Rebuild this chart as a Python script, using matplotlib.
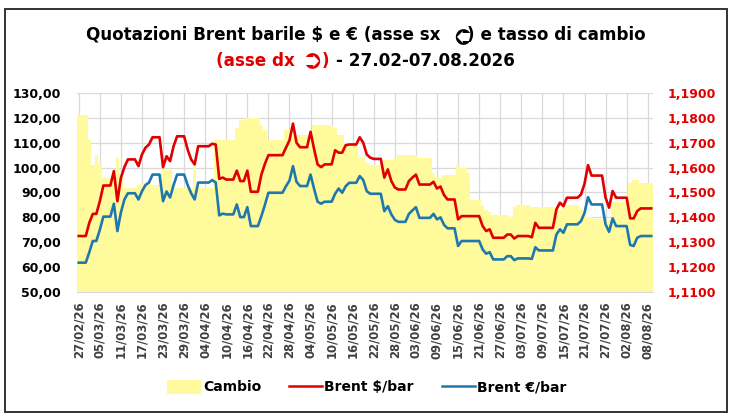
import pandas as pd
import matplotlib
matplotlib.use('Agg')
import matplotlib.pyplot as plt
from matplotlib.patches import Patch, Rectangle
from matplotlib.lines import Line2D
from matplotlib.ticker import FuncFormatter, FixedLocator

plt.rcParams['font.family'] = ['DejaVu Sans']

# Daily values (weekends repeat Friday), rows of 7 days starting on Friday
start_date = '2026-02-27'

brent_usd = [
    72.5, 72.5, 72.5, 77.8, 81.4, 81.4, 86.5,
    92.8, 92.8, 92.8, 98.6, 86.5, 95.9, 100.2,
    103.3, 103.3, 103.3, 100.6, 105.3, 108.0, 109.3,
    112.2, 112.2, 112.2, 100.2, 104.6, 102.6, 108.6,
    112.6, 112.6, 112.6, 107.3, 103.3, 101.3, 108.6,
    108.6, 108.6, 108.6, 109.6, 109.3, 95.5, 96.0,
    95.2, 95.2, 95.2, 98.8, 94.6, 94.6, 98.8,
    90.3, 90.3, 90.3, 97.2, 101.5, 105.0, 105.0,
    105.0, 105.0, 105.0, 108.0, 111.0, 117.7, 110.0,
    108.2, 108.2, 108.2, 114.4, 107.5, 101.3, 100.2,
    101.3, 101.3, 101.3, 107.0, 106.0, 106.0, 109.0,
    109.3, 109.3, 109.3, 112.2, 110.0, 105.3, 104.0,
    103.5, 103.5, 103.5, 96.0, 99.3, 94.6, 92.0,
    91.2, 91.2, 91.2, 94.6, 96.0, 97.2, 93.2,
    93.2, 93.2, 93.2, 94.3, 91.6, 92.4, 89.0,
    87.2, 87.2, 87.2, 79.2, 80.5, 80.5, 80.5,
    80.5, 80.5, 80.5, 76.5, 74.5, 75.2, 71.8,
    71.8, 71.8, 71.8, 73.1, 73.1, 71.5, 72.5,
    72.5, 72.5, 72.5, 72.0, 77.8, 75.8, 75.8,
    75.8, 75.8, 75.8, 83.2, 85.9, 84.5, 87.9,
    87.9, 87.9, 87.9, 89.2, 93.5, 101.0, 96.8,
    96.8, 96.8, 96.8, 87.9, 83.9, 90.6, 87.9,
    87.9, 87.9, 87.9, 79.6, 79.6, 82.5, 83.6,
    83.6, 83.6, 83.6,
]

brent_eur = [
    61.8, 61.8, 61.8, 66.0, 70.5, 70.5, 75.0,
    80.3, 80.3, 80.3, 85.5, 74.5, 82.0, 87.2,
    89.7, 89.7, 89.7, 87.2, 90.5, 93.0, 94.0,
    97.2, 97.2, 97.2, 86.5, 90.4, 88.0, 93.0,
    97.2, 97.2, 97.2, 93.0, 89.7, 87.2, 94.0,
    94.0, 94.0, 94.0, 95.0, 94.0, 80.8, 81.5,
    81.2, 81.2, 81.2, 85.2, 80.1, 80.1, 84.1,
    76.5, 76.5, 76.5, 80.5, 85.0, 89.9, 89.9,
    89.9, 89.9, 89.9, 92.5, 94.8, 100.6, 94.3,
    92.6, 92.6, 92.6, 97.2, 91.5, 86.3, 85.5,
    86.3, 86.3, 86.3, 89.5, 91.6, 89.9, 92.5,
    93.9, 93.9, 93.9, 96.6, 95.0, 90.5, 89.5,
    89.5, 89.5, 89.5, 82.5, 84.5, 81.2, 79.0,
    78.2, 78.2, 78.2, 81.4, 82.8, 84.1, 79.8,
    79.8, 79.8, 79.8, 81.4, 79.2, 80.0, 77.0,
    75.6, 75.6, 75.6, 68.5, 70.5, 70.5, 70.5,
    70.5, 70.5, 70.5, 67.1, 65.4, 66.0, 63.1,
    63.1, 63.1, 63.1, 64.4, 64.4, 62.8, 63.5,
    63.5, 63.5, 63.5, 63.3, 68.0, 66.7, 66.7,
    66.7, 66.7, 66.7, 73.1, 75.2, 73.8, 77.2,
    77.2, 77.2, 77.2, 78.5, 81.8, 88.1, 85.2,
    85.2, 85.2, 85.2, 77.2, 74.2, 79.6, 76.5,
    76.5, 76.5, 76.5, 68.9, 68.5, 71.8, 72.5,
    72.5, 72.5, 72.5,
]

cambio = [
    1.181, 1.181, 1.181, 1.171, 1.161, 1.165, 1.162,
    1.156, 1.156, 1.156, 1.155, 1.164, 1.157, 1.152,
    1.152, 1.152, 1.152, 1.153, 1.154, 1.154, 1.154,
    1.153, 1.153, 1.153, 1.159, 1.159, 1.159, 1.152,
    1.152, 1.152, 1.152, 1.152, 1.152, 1.161, 1.152,
    1.152, 1.152, 1.152, 1.152, 1.171, 1.171, 1.171,
    1.171, 1.171, 1.171, 1.176, 1.179, 1.179, 1.180,
    1.180, 1.180, 1.180, 1.177, 1.175, 1.171, 1.171,
    1.171, 1.171, 1.171, 1.175, 1.175, 1.173, 1.173,
    1.173, 1.173, 1.173, 1.174, 1.177, 1.177, 1.177,
    1.177, 1.177, 1.177, 1.176, 1.173, 1.173, 1.170,
    1.170, 1.170, 1.170, 1.164, 1.164, 1.162, 1.161,
    1.161, 1.161, 1.161, 1.163, 1.163, 1.163, 1.164,
    1.165, 1.165, 1.165, 1.165, 1.165, 1.165, 1.164,
    1.164, 1.164, 1.164, 1.158, 1.156, 1.156, 1.157,
    1.157, 1.157, 1.157, 1.161, 1.160, 1.160, 1.158,
    1.147, 1.147, 1.147, 1.145, 1.143, 1.142, 1.141,
    1.141, 1.141, 1.141, 1.141, 1.140, 1.144, 1.145,
    1.145, 1.145, 1.145, 1.144, 1.144, 1.144, 1.144,
    1.144, 1.144, 1.144, 1.143, 1.143, 1.145, 1.145,
    1.145, 1.145, 1.145, 1.143, 1.142, 1.140, 1.140,
    1.1395, 1.1395, 1.1395, 1.139, 1.139, 1.146, 1.146,
    1.146, 1.146, 1.146, 1.154, 1.155, 1.155, 1.154,
    1.154, 1.154, 1.154,
]

tick_labels = ['27/02/26', '05/03/26', '11/03/26', '17/03/26', '23/03/26',
               '29/03/26', '04/04/26', '10/04/26', '16/04/26', '22/04/26',
               '28/04/26', '04/05/26', '10/05/26', '16/05/26', '22/05/26',
               '28/05/26', '03/06/26', '09/06/26', '15/06/26', '21/06/26',
               '27/06/26', '03/07/26', '09/07/26', '15/07/26', '21/07/26',
               '27/07/26', '02/08/26', '08/08/26']

# (text, colour, rotation, size factor, leading spaces)
title_line1 = [('Quotazioni Brent barile $ e € (asse sx', 'black', 0, 1.0, 0),
               ('\u27b2', 'black', 180, 1.5, 1),
               (') e tasso di cambio', 'black', 0, 1.0, 0)]
title_line2 = [('(asse dx', '#E00000', 0, 1.0, 0),
               ('\u27b2', '#E00000', 0, 1.5, 1),
               (')', '#E00000', 0, 1.0, 0),
               ('- 27.02-07.08.2026', 'black', 0, 1.0, 1)]

RED = '#E00000'
BLUE = '#1E78AE'
YELLOW = '#FFFA9C'
GRID = '#D9D9D9'

W, H = 731, 420

days = pd.date_range(start_date, periods=len(cambio), freq='D')
tick_pos = pd.to_datetime(tick_labels, format='%d/%m/%y')

fig = plt.figure(figsize=(W / 100, H / 100), dpi=100)
ax = fig.add_axes([77 / W, 1 - 292 / H, (653 - 77) / W, (292 - 93) / H])
ax2 = ax.twinx()
ax.set_zorder(ax2.get_zorder() + 1)
ax.patch.set_visible(False)

# cambio as columns on the right axis, behind the lines
ax2.bar(days, cambio, width=1.0, color=YELLOW, linewidth=0, zorder=2)
ax2.set_ylim(1.11, 1.19)
ax2.yaxis.set_major_locator(FixedLocator([1.11 + 0.01 * i for i in range(9)]))
ax2.yaxis.set_major_formatter(FuncFormatter(lambda v, p: f'{v:.4f}'.replace('.', ',')))
ax2.set_axisbelow(True)
ax2.yaxis.grid(True, color=GRID, linewidth=0.9)
for t in tick_pos:
    ax2.axvline(t, color=GRID, linewidth=0.9, zorder=0.5)

ax.plot(days, brent_usd, color=RED, linewidth=1.9, zorder=3)
ax.plot(days, brent_eur, color=BLUE, linewidth=1.9, zorder=3)
ax.set_ylim(50, 130)
ax.yaxis.set_major_locator(FixedLocator(list(range(50, 131, 10))))
ax.yaxis.set_major_formatter(FuncFormatter(lambda v, p: f'{v:.2f}'.replace('.', ',')))
ax.set_xlim(days[0] - pd.Timedelta(hours=12), days[-1] + pd.Timedelta(hours=12))
ax.set_xticks(tick_pos)
ax.set_xticklabels(tick_labels, rotation=90, fontsize=8.4, fontweight='bold', color='#404040')

for a in (ax, ax2):
    for s in a.spines.values():
        s.set_visible(False)
ax.spines['bottom'].set_visible(True)
ax.spines['bottom'].set_color(GRID)

ax.tick_params(axis='x', length=0, pad=7)
ax.tick_params(axis='y', length=0, pad=11.5, labelsize=9)
ax2.tick_params(axis='y', length=0, pad=10.8, labelsize=9, labelcolor=RED)
for lab in ax.get_yticklabels():
    lab.set_fontweight('bold')
for lab in ax2.get_yticklabels():
    lab.set_fontweight('bold')

# legend
handles = [Patch(facecolor=YELLOW, edgecolor='none'),
           Line2D([], [], color=RED, linewidth=1.8),
           Line2D([], [], color=BLUE, linewidth=1.8)]
fig.legend(handles, ['Cambio', 'Brent $/bar', 'Brent €/bar'], loc='center',
           bbox_to_anchor=(0.502, 1 - 387 / H), ncol=3, frameon=False,
           prop={'weight': 'bold', 'size': 10}, handlelength=2.4,
           handleheight=1.2, handletextpad=0.15, columnspacing=2.0)

# border of the chart
fig.patches.append(Rectangle((5 / W, 8 / H), 722 / W, 403 / H, transform=fig.transFigure,
                             fill=False, edgecolor='#333333', linewidth=1.4))

# title built from pieces so the arrow glyph can be bigger and turned round
renderer = fig.canvas.get_renderer()


def text_width(s, size):
    t = fig.text(0, 0, s, fontsize=size, fontweight='bold')
    w = t.get_window_extent(renderer).width
    t.remove()
    return w


def space_width(size):
    return text_width('a a', size) - text_width('aa', size)


def line_width(pieces, size):
    total = 0
    for s, color, rot, k, lead in pieces:
        total += lead * space_width(size) + text_width(s, size * k)
    return total


title_size = 12 * 560 / line_width(title_line1, 12)


def draw_line(pieces, baseline_px, size):
    x = W / 2 - line_width(pieces, size) / 2
    y = 1 - baseline_px / H
    for s, color, rot, k, lead in pieces:
        x += lead * space_width(size)
        w = text_width(s, size * k)
        if rot == 0 and k == 1.0:
            fig.text(x / W, y, s, fontsize=size, fontweight='bold',
                     color=color, ha='left', va='baseline')
        else:
            # glyph centred on the middle of the capitals
            cap = fig.text(0, y, 'H', fontsize=size, fontweight='bold', va='baseline')
            bb = cap.get_window_extent(renderer)
            cap.remove()
            fig.text((x + w / 2) / W, (bb.y0 + bb.y1) / 2 / H, s,
                     fontsize=size * k, fontweight='bold', color=color,
                     rotation=rot, ha='center', va='center')
        x += w


draw_line(title_line1, 40, title_size)
draw_line(title_line2, 66, title_size)

fig.savefig('out.png', dpi=100)
